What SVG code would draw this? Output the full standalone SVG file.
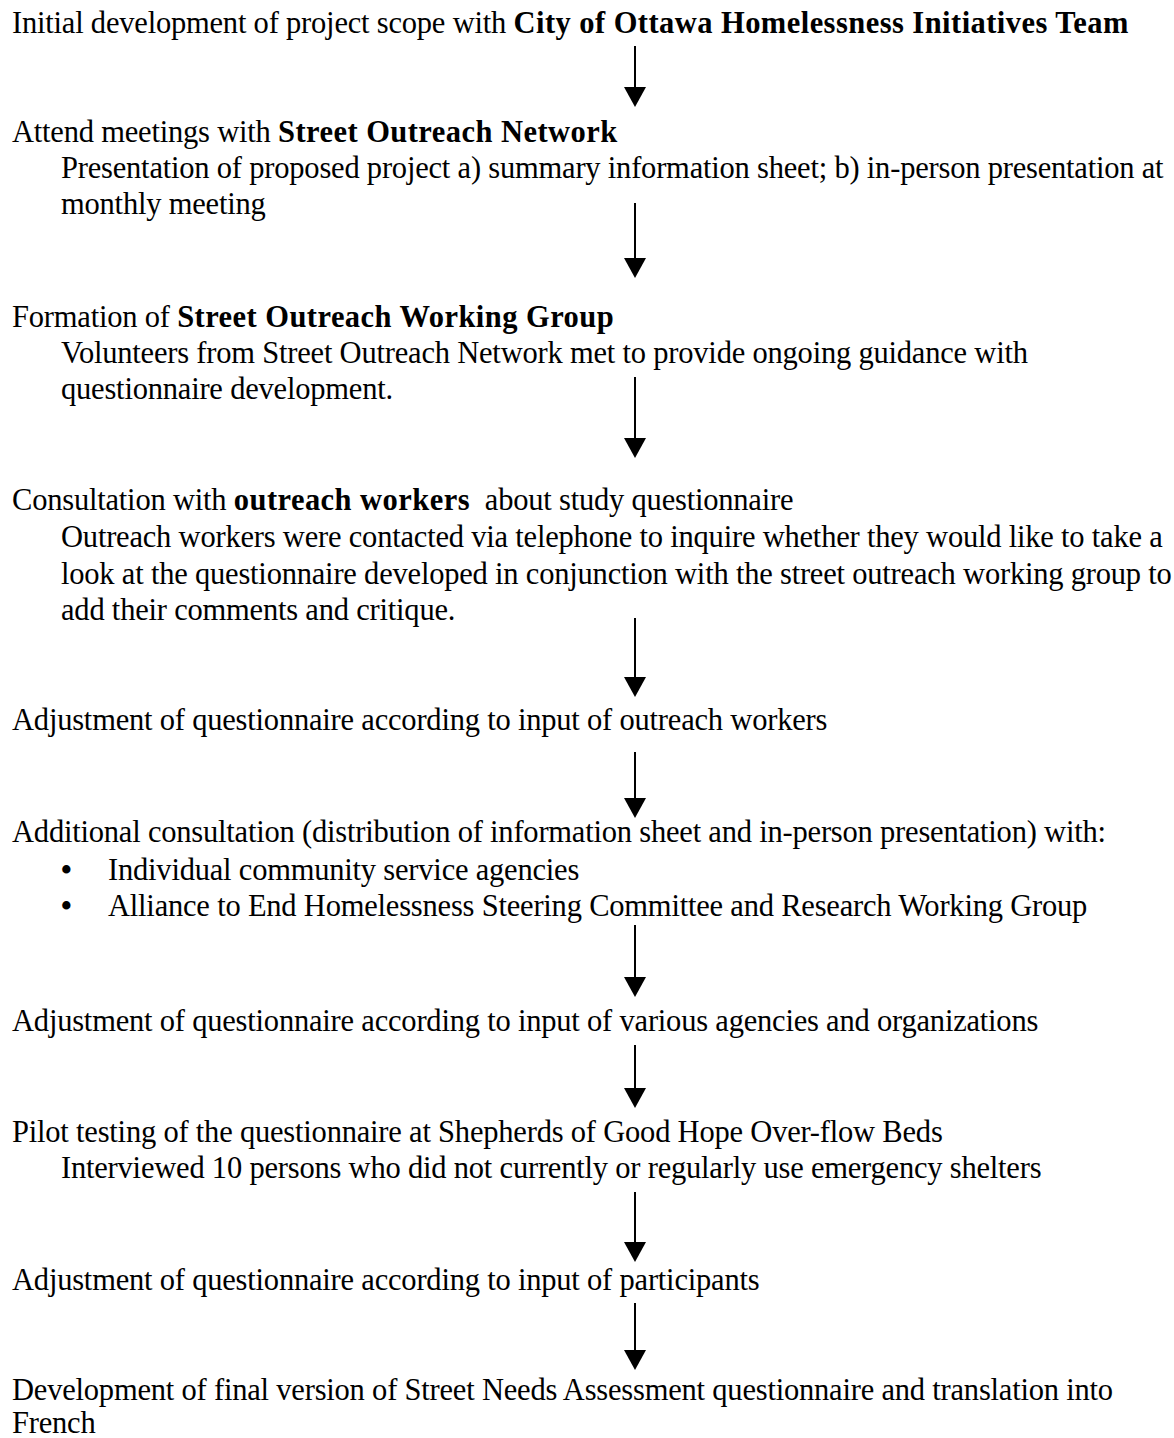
<svg xmlns="http://www.w3.org/2000/svg" width="1174" height="1438" viewBox="0 0 1174 1438">
<defs>
<style>
text{font-family:"Liberation Serif","Times New Roman",serif;font-size:30.5px;fill:#000;letter-spacing:-0.2px}
.b{font-weight:bold;letter-spacing:0.45px}
.bul{font-weight:bold;letter-spacing:0}
.conn line{stroke:#000;stroke-width:2}
</style>
<marker id="ah" markerUnits="userSpaceOnUse" markerWidth="20" markerHeight="22" refX="0" refY="11" orient="auto">
<path d="M0,0 L20,11 L0,22 Z" fill="#000"/>
</marker>
</defs>
<rect width="1174" height="1438" fill="#fff"/>
<g id="n1"><text x="12" y="33">Initial development of project scope with <tspan class="b">City of Ottawa Homelessness Initiatives Team</tspan></text></g>
<g id="n2">
<text x="12" y="142">Attend meetings with <tspan class="b">Street Outreach Network</tspan></text>
<text x="61" y="178">Presentation of proposed project a) summary information sheet; b) in-person presentation at</text>
<text x="61" y="214">monthly meeting</text>
</g>
<g id="n3">
<text x="12" y="327">Formation of <tspan class="b">Street Outreach Working Group</tspan></text>
<text x="61" y="363">Volunteers from Street Outreach Network met to provide ongoing guidance with</text>
<text x="61" y="399">questionnaire development.</text>
</g>
<g id="n4">
<text x="12" y="510" xml:space="preserve">Consultation with <tspan class="b">outreach workers</tspan>  about study questionnaire</text>
<text x="61" y="547">Outreach workers were contacted via telephone to inquire whether they would like to take a</text>
<text x="61" y="584">look at the questionnaire developed in conjunction with the street outreach working group to</text>
<text x="61" y="620">add their comments and critique.</text>
</g>
<g id="n5"><text x="12" y="730">Adjustment of questionnaire according to input of outreach workers</text></g>
<g id="n6">
<text x="12" y="842">Additional consultation (distribution of information sheet and in-person presentation) with:</text>
<text x="61" y="880"><tspan class="bul">•</tspan><tspan x="108">Individual community service agencies</tspan></text>
<text x="61" y="916"><tspan class="bul">•</tspan><tspan x="108">Alliance to End Homelessness Steering Committee and Research Working Group</tspan></text>
</g>
<g id="n7"><text x="12" y="1031">Adjustment of questionnaire according to input of various agencies and organizations</text></g>
<g id="n8">
<text x="12" y="1142">Pilot testing of the questionnaire at Shepherds of Good Hope Over-flow Beds</text>
<text x="61" y="1178">Interviewed 10 persons who did not currently or regularly use emergency shelters</text>
</g>
<g id="n9"><text x="12" y="1290">Adjustment of questionnaire according to input of participants</text></g>
<g id="n10">
<text x="12" y="1400">Development of final version of Street Needs Assessment questionnaire and translation into</text>
<text x="12" y="1433">French</text>
</g>
<g id="connectors" class="conn">
<line x1="635" y1="46" x2="635" y2="87" marker-end="url(#ah)"/>
<line x1="635" y1="203" x2="635" y2="258" marker-end="url(#ah)"/>
<line x1="635" y1="377" x2="635" y2="438" marker-end="url(#ah)"/>
<line x1="635" y1="618" x2="635" y2="677" marker-end="url(#ah)"/>
<line x1="635" y1="752" x2="635" y2="798" marker-end="url(#ah)"/>
<line x1="635" y1="925" x2="635" y2="977" marker-end="url(#ah)"/>
<line x1="635" y1="1045" x2="635" y2="1088" marker-end="url(#ah)"/>
<line x1="635" y1="1192" x2="635" y2="1242" marker-end="url(#ah)"/>
<line x1="635" y1="1303" x2="635" y2="1350" marker-end="url(#ah)"/>
</g>
</svg>
